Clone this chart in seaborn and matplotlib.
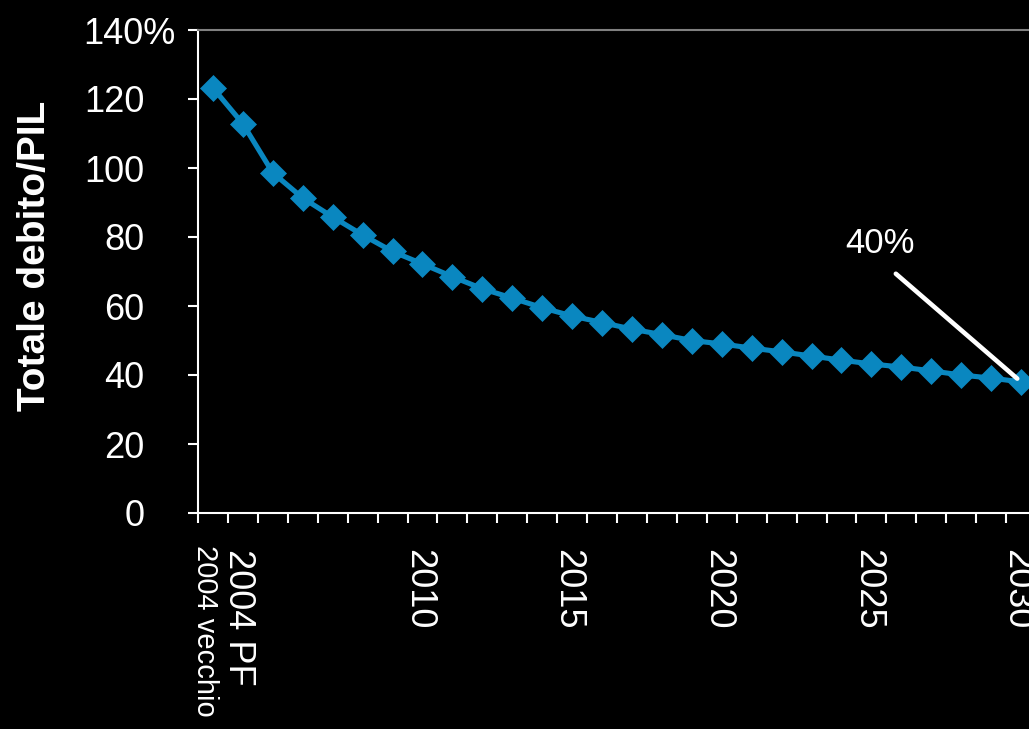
import numpy as np
import pandas as pd
import matplotlib
matplotlib.use("Agg")
import matplotlib.pyplot as plt
import matplotlib.transforms as mtransforms
from matplotlib.ticker import FixedLocator
import seaborn as sns

# Debt-to-GDP path: two 2004 baselines followed by yearly projections
categories = ["2004 vecchio", "2004 PF"] + [str(y) for y in range(2005, 2031)]
debt_ratio = [123.2, 112.8, 98.6, 91.3, 85.8, 80.6, 75.8, 72.2, 68.5, 65.0,
              62.3, 59.5, 57.1, 55.2, 53.3, 51.7, 50.0, 49.0, 47.8, 46.7,
              45.5, 44.3, 43.2, 42.3, 41.2, 40.0, 39.1, 38.0]
labelled_years = ["2004 vecchio", "2004 PF", "2010", "2015", "2020", "2025", "2030"]
y_ticks = [0, 20, 40, 60, 80, 100, 120, 140]
y_tick_labels = ["0", "20", "40", "60", "80", "100", "120", "140%"]
target_label = "40%"
y_title = "Totale debito/PIL"

BLUE = "#0A87C0"
W, H, DPI = 1029, 729, 100

sns.set_theme(style="dark")
plt.rcParams["font.family"] = ["Liberation Sans", "DejaVu Sans"]

fig = plt.figure(figsize=(W / DPI, H / DPI), dpi=DPI, facecolor="black")
ax = fig.add_axes([198 / W, 1 - 513 / H, 838 / W, 483 / H])
ax.set_facecolor("black")

df = pd.DataFrame({"anno": categories, "debito": debt_ratio})
sns.pointplot(data=df, x="anno", y="debito", order=categories, color=BLUE,
              markers="D", linestyles="-", errorbar=None, ax=ax,
              linewidth=3.7, markersize=13, markeredgewidth=0.5)

n = len(categories)
ax.set_xlim(-0.5, n - 0.5)
ax.set_ylim(0, 140)
ax.grid(False)

# x axis: labels at category centres, tick marks on category boundaries
ax.set_xticks(range(n))
ax.set_xticklabels([c if c in labelled_years else "" for c in categories])
ax.xaxis.set_minor_locator(FixedLocator(np.arange(-0.5, n, 1.0)))
ax.tick_params(axis="x", which="major", bottom=True, length=0, pad=26,
               labelsize=26, labelcolor="white", labelrotation=-90)
ax.tick_params(axis="x", which="minor", bottom=True, length=7.5, width=1.5,
               color="white", direction="out")
shift_left = mtransforms.ScaledTranslation(-0.04, 0, fig.dpi_scale_trans)
for lab in ax.get_xticklabels():
    lab.set_transform(lab.get_transform() + shift_left)
first = ax.get_xticklabels()[0]
first.set_fontsize(21)
first.set_transform(first.get_transform() +
                    mtransforms.ScaledTranslation(-0.04, 0.04, fig.dpi_scale_trans))

# y axis
ax.set_yticks(y_ticks)
ax.set_yticklabels(y_tick_labels)
ax.tick_params(axis="y", left=True, length=7.5, width=1.5, color="white", pad=31,
               labelsize=26, labelcolor="white", direction="out")
top = ax.get_yticklabels()[-1]
top.set_transform(top.get_transform() +
                  mtransforms.ScaledTranslation(0.31, 0, fig.dpi_scale_trans))

ax.set_xlabel("")
ax.set_ylabel(y_title, fontsize=28, fontweight="bold", color="white")
ax.yaxis.set_label_coords(-0.173, 0.532)

for side in ("left", "bottom"):
    ax.spines[side].set_color("white")
    ax.spines[side].set_linewidth(1.5)
ax.spines["top"].set_color("#808080")
ax.spines["top"].set_linewidth(1.5)
ax.spines["right"].set_visible(False)

ax.annotate(target_label, xy=(n - 1, debt_ratio[-1]), xytext=(22.29, 73.3),
            textcoords="data", ha="center", va="bottom", fontsize=25,
            color="white", zorder=5,
            arrowprops=dict(arrowstyle="-", color="white", lw=3.3,
                            patchA=None, shrinkA=15, shrinkB=3.6,
                            relpos=(0.5, 0)))

fig.savefig("out.png", dpi=DPI, facecolor="black")
